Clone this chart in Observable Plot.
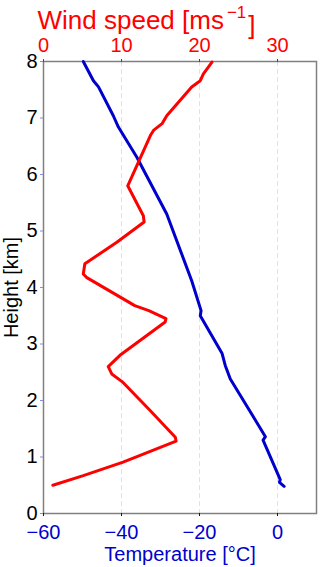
<!DOCTYPE html>
<html><head><meta charset="utf-8">
<script src="https://cdn.jsdelivr.net/npm/d3@7"></script>
<script src="https://cdn.jsdelivr.net/npm/@observablehq/plot@0.6"></script>
<style>
html,body{margin:0;padding:0;background:#fff;}
#chart{position:relative;width:320px;height:567px;}
#chart svg{position:absolute;left:0;top:0;}
</style></head><body><div id="chart"></div>
<script>
// Temperature profile
const tempHeights = [8.00, 7.66, 7.55, 7.04, 6.84, 6.31, 5.30, 4.12, 3.59, 3.50, 2.83, 2.62, 2.38, 1.36, 1.30, 0.60, 0.55, 0.48];
const temperatures = [-49.8, -47.2, -45.9, -42.1, -40.8, -36.1, -28.4, -22.0, -19.6, -19.8, -14.2, -13.4, -12.1, -3.1, -3.7, 0.7, 0.5, 1.7];
// Wind speed profile
const windHeights = [7.99, 7.78, 7.66, 7.55, 7.04, 6.90, 6.78, 6.69, 5.80, 5.27, 5.16, 4.80, 4.42, 4.24, 4.18, 3.68, 3.59, 3.45, 3.39, 2.80, 2.60, 2.47, 2.32, 1.82, 1.35, 1.28, 0.91, 0.67, 0.50];
const windSpeeds = [21.6, 20.5, 20.1, 19.0, 15.8, 15.2, 14.1, 13.7, 10.8, 12.8, 12.9, 9.4, 5.3, 5.1, 5.5, 11.7, 13.5, 15.7, 15.6, 9.8, 8.3, 8.75, 10.2, 13.7, 16.9, 17.0, 10.2, 5.1, 1.2];
// Ticks and labels
const heightTicks = [0, 1, 2, 3, 4, 5, 6, 7, 8];
const tempTicks = [-60, -40, -20, 0];
const windTicks = [0, 10, 20, 30];
const heightLabel = "Height [km]";
const tempLabel = "Temperature [°C]";
const windLabel = "Wind speed [ms";
const windLabelSup = "\u22121";
const windLabelEnd = "]";

const tempData = tempHeights.map((h, i) => ({h, t: temperatures[i]}));
const windData = windHeights.map((h, i) => ({h, w: windSpeeds[i]}));

const font = '"Liberation Sans", Arial, Helvetica, sans-serif';
const FS = 19;
const common = {
  width: 320, height: 567,
  marginLeft: 43, marginRight: 4, marginTop: 61, marginBottom: 54,
  style: {fontFamily: font, fontSize: FS + "px", background: "transparent", overflow: "visible"}
};
const minus = d => d < 0 ? "\u2212" + Math.abs(d) : String(d);
const BLUE = "#0000cd", RED = "#ff0000";

const tempPlot = Plot.plot({
  ...common,
  x: {domain: [-60, 10]},
  y: {domain: [0, 8]},
  marks: [
    Plot.gridX(tempTicks.slice(1), {stroke: "#e2e2e2", strokeOpacity: 1, strokeDasharray: "5,3", strokeWidth: 1}),
    Plot.frame({stroke: "#808080", strokeWidth: 1.5}),
    Plot.axisY(heightTicks, {anchor: "left", tickSize: 3, tickPadding: 3, color: "black", stroke: "#8a8ad8", tickFormat: d => String(d), label: heightLabel, labelAnchor: "center", labelArrow: "none", labelOffset: 40, fontSize: 20}),
    Plot.axisX(tempTicks, {anchor: "bottom", tickSize: 3, tickPadding: 8, color: BLUE, tickFormat: minus, label: tempLabel, labelAnchor: "center", labelArrow: "none", labelOffset: 47, fontSize: 20}),
    Plot.line(tempData, {x: "t", y: "h", stroke: BLUE, strokeWidth: 3})
  ]
});

const windPlot = Plot.plot({
  ...common,
  x: {domain: [0, 35]},
  y: {domain: [0, 8], axis: null},
  marks: [
    Plot.axisX(windTicks, {anchor: "top", tickSize: 3, tickPadding: 7, color: RED, tickFormat: d => String(d), label: null, fontSize: 20}),
    Plot.text([windLabel], {frameAnchor: "top-left", textAnchor: "start", lineAnchor: "bottom", dx: -6, dy: -33, fill: RED, fontSize: 26}),
    Plot.line(windData, {x: "w", y: "h", stroke: RED, strokeWidth: 3})
  ]
});

d3.select(windPlot).selectAll("text").filter(function() { return this.textContent === windLabel; })
  .each(function() {
    const t = d3.select(this);
    t.append("tspan").attr("dx", 3).attr("dy", "-0.6em").attr("font-size", 17).text(windLabelSup);
    t.append("tspan").attr("dx", 2).attr("dy", "0.6em").text(windLabelEnd);
  });

const chart = document.getElementById("chart");
chart.append(tempPlot, windPlot);
</script>
</body></html>
